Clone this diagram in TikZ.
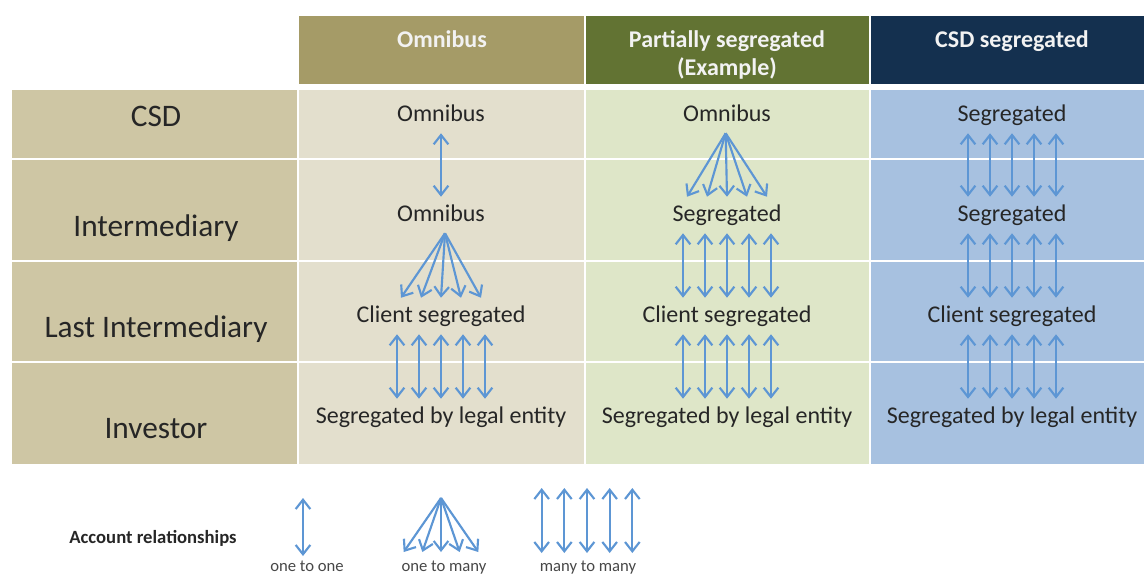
\documentclass[tikz,border=0pt]{standalone}
\usepackage{fontspec}
\setmainfont{Carlito}
\usepackage{xcolor}
\usetikzlibrary{arrows.meta, positioning}

\definecolor{colLeft}{RGB}{206,198,164}
\definecolor{colOmni}{RGB}{227,223,205}
\definecolor{colPart}{RGB}{222,230,200}
\definecolor{colCsd}{RGB}{167,193,224}
\definecolor{hdrOmni}{RGB}{165,155,103}
\definecolor{hdrPart}{RGB}{98,115,51}
\definecolor{hdrCsd}{RGB}{20,48,79}
\definecolor{arrowBlue}{RGB}{93,150,212}
\definecolor{txtDark}{RGB}{38,38,38}

\begin{document}
\begin{tikzpicture}[x=0.75pt,y=0.75pt,yscale=-1,xscale=1,
	celltext/.style={font=\fontsize{18}{21}\selectfont, text=txtDark, anchor=base, inner sep=0pt, text height=18pt, text depth=9pt},
	rowtext/.style={font=\fontsize{23.5}{27}\selectfont, text=txtDark, anchor=base},
	hdrtext/.style={font=\bfseries\fontsize{18}{21}\selectfont, text=white!95!black, anchor=base, align=center},
	legendhead/.style={font=\bfseries\fontsize{14}{16}\selectfont, text=txtDark, anchor=base},
	legendtext/.style={font=\fontsize{12.5}{15}\selectfont, text=txtDark!85, anchor=base},
	rel/.style={draw=arrowBlue, line width=1.6pt, {Straight Barb[length=7pt,width=11pt]}-{Straight Barb[length=7pt,width=11pt]}},
	fan/.style={draw=arrowBlue, line width=1.6pt, -{Straight Barb[length=7pt,width=11pt]}},
	sepline/.style={draw=white, line width=1.5pt}]
	\useasboundingbox (0,0) rectangle (1144,575);
	
	%Shape: Rectangles, header
	\fill[hdrOmni] (298,16) rectangle (585,84);
	\fill[hdrPart] (585,16) rectangle (870,84);
	\fill[hdrCsd] (870,16) rectangle (1144,84);
	%Shape: Rectangles, body
	\fill[colLeft] (12,90) rectangle (298,464);
	\fill[colOmni] (298,90) rectangle (585,464);
	\fill[colPart] (585,90) rectangle (870,464);
	\fill[colCsd] (870,90) rectangle (1144,464);
	%Straight Lines, white grid
	\draw[sepline] (12,159) -- (1144,159);
	\draw[sepline] (12,260.5) -- (1144,260.5);
	\draw[sepline] (12,362) -- (1144,362);
	\draw[sepline] (298,16) -- (298,464);
	\draw[sepline] (585,16) -- (585,464);
	\draw[sepline] (870,16) -- (870,464);
	
	% Text Node, header
	\node[hdrtext] (hOmni) at (442,47) {Omnibus};
	\node[hdrtext] (hPart) at (727,75) {Partially segregated\\(Example)};
	\node[hdrtext] (hCsd) at (1012,47) {CSD segregated};
	
	% Text Node, rows
	\node[rowtext] (rCsd) at (156,126) {CSD};
	\node[rowtext] (rInter) at (156,236) {Intermediary};
	\node[rowtext] (rLast) at (156,337) {Last Intermediary};
	\node[rowtext] (rInv) at (156,438) {Investor};
	
	% Text Node, omnibus column
	\node[celltext] (o1) at (441,121) {Omnibus};
	\node[celltext] (o2) at (441,221) {Omnibus};
	\node[celltext] (o3) at (441,322) {Client segregated};
	\node[celltext] (o4) at (441,423) {Segregated by legal entity};
	% Text Node, partially segregated column
	\node[celltext] (p1) at (727,121) {Omnibus};
	\node[celltext] (p2) at (727,221) {Segregated};
	\node[celltext] (p3) at (727,322) {Client segregated};
	\node[celltext] (p4) at (727,423) {Segregated by legal entity};
	% Text Node, CSD segregated column
	\node[celltext] (s1) at (1012,121) {Segregated};
	\node[celltext] (s2) at (1012,221) {Segregated};
	\node[celltext] (s3) at (1012,322) {Client segregated};
	\node[celltext] (s4) at (1012,423) {Segregated by legal entity};
	
	%Arrows, omnibus column
	\draw[rel] (o1.south) -- (o2.north);
	\foreach \dx in {-30,-15,0,15,30}
		\draw[fan] ([xshift=3pt]o2.south) -- ([xshift=\dx pt]o3.north);
	\foreach \dx in {-33,-16.5,0,16.5,33}
		\draw[rel] ([xshift=\dx pt]o3.south) -- ([xshift=\dx pt]o4.north);
	%Arrows, partially segregated column
	\foreach \dx in {-30,-15,0,15,30}
		\draw[fan] ([xshift=-1pt]p1.south) -- ([xshift=\dx pt]p2.north);
	\foreach \dx in {-33,-16.5,0,16.5,33}
		\draw[rel] ([xshift=\dx pt]p2.south) -- ([xshift=\dx pt]p3.north);
	\foreach \dx in {-33,-16.5,0,16.5,33}
		\draw[rel] ([xshift=\dx pt]p3.south) -- ([xshift=\dx pt]p4.north);
	%Arrows, CSD segregated column
	\foreach \dx in {-33,-16.5,0,16.5,33}
		\draw[rel] ([xshift=\dx pt]s1.south) -- ([xshift=\dx pt]s2.north);
	\foreach \dx in {-33,-16.5,0,16.5,33}
		\draw[rel] ([xshift=\dx pt]s2.south) -- ([xshift=\dx pt]s3.north);
	\foreach \dx in {-33,-16.5,0,16.5,33}
		\draw[rel] ([xshift=\dx pt]s3.south) -- ([xshift=\dx pt]s4.north);
	
	% Text Node, legend
	\node[legendhead] (acct) at (153,543) {Account relationships};
	\coordinate (oneTop) at (303,498);
	\coordinate (oneBot) at (303,556);
	\draw[rel] (oneTop) -- (oneBot);
	\node[legendtext] (oneLbl) at (307,571) {one to one};
	\coordinate (fanTop) at (441,498);
	\coordinate (fanBot) at (441,552);
	\foreach \dx in {-28,-14,0,14,28}
		\draw[fan] (fanTop) -- ([xshift=\dx pt]fanBot);
	\node[legendtext] (fanLbl) at (444,571) {one to many};
	\coordinate (manyTop) at (587,488);
	\coordinate (manyBot) at (587,553);
	\foreach \dx in {-34,-17,0,17,34}
		\draw[rel] ([xshift=\dx pt]manyTop) -- ([xshift=\dx pt]manyBot);
	\node[legendtext] (manyLbl) at (588,571) {many to many};
	
\end{tikzpicture}
\end{document}
